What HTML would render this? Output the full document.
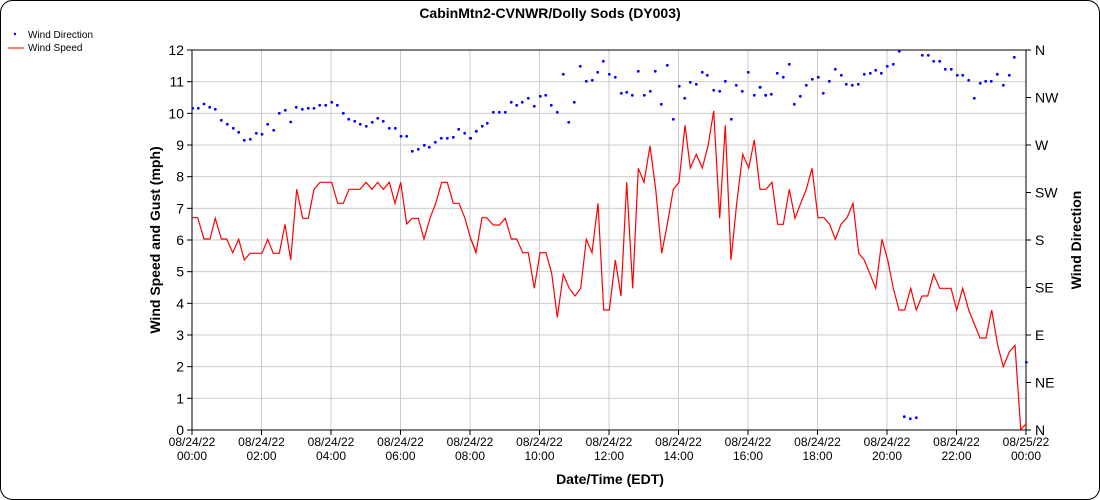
<!DOCTYPE html>
<html><head><meta charset="utf-8"><style>
body{margin:0;background:#fff;}
svg{display:block;font-family:"Liberation Sans",sans-serif;}
</style></head><body>
<svg id="s" width="1100" height="500" xmlns="http://www.w3.org/2000/svg">
<rect x="0.5" y="0.5" width="1099" height="499" rx="12" fill="#fff" stroke="#000"/>
<text x="550" y="18" font-size="14" font-weight="bold" text-anchor="middle">CabinMtn2-CVNWR/Dolly Sods (DY003)</text>
<circle cx="15" cy="34" r="1.2" fill="#00f"/>
<text x="28" y="38" font-size="10">Wind Direction</text>
<line x1="8" y1="48" x2="24" y2="48" stroke="#f00"/>
<text x="28" y="51" font-size="10">Wind Speed</text>
<g id="grid"></g>
<g id="data"></g>
<text x="610" y="484" font-size="14" font-weight="bold" text-anchor="middle">Date/Time (EDT)</text>
<text transform="translate(160,240) rotate(-90)" font-size="14" font-weight="bold" text-anchor="middle">Wind Speed and Gust (mph)</text>
<text transform="translate(1081,240) rotate(-90)" font-size="14" font-weight="bold" text-anchor="middle">Wind Direction</text>
</svg>
<script>
var NS="http://www.w3.org/2000/svg";
function el(p,t,a,txt){var e=document.createElementNS(NS,t);for(var k in a)e.setAttribute(k,a[k]);if(txt!==undefined)e.textContent=txt;p.appendChild(e);return e;}
var g=document.getElementById('grid'),d=document.getElementById('data');
var L=192,R=1026,T=50,B=430;
for(var i=0;i<=12;i++){var y=B-i*(B-T)/12;
 el(g,'line',{x1:L,x2:R,y1:y,y2:y,stroke:'#ccc'});
 el(g,'line',{x1:L-5,x2:L,y1:y,y2:y,stroke:'#000'});
 el(g,'text',{x:L-8,y:y+5,'font-size':14,'text-anchor':'end'},i);}
var hrs=['00:00','02:00','04:00','06:00','08:00','10:00','12:00','14:00','16:00','18:00','20:00','22:00','00:00'];
for(var i=0;i<=12;i++){var x=L+i*(R-L)/12;
 el(g,'line',{x1:x,x2:x,y1:T,y2:B,stroke:'#ccc'});
 el(g,'line',{x1:x,x2:x,y1:B,y2:B+5,stroke:'#000'});
 el(g,'text',{x:x,y:B+16,'font-size':12,'text-anchor':'middle'},i==12?'08/25/22':'08/24/22');
 el(g,'text',{x:x,y:B+30,'font-size':12,'text-anchor':'middle'},hrs[i]);}
var dirs=['N','NE','E','SE','S','SW','W','NW','N'];
for(var i=0;i<=8;i++){var y=B-i*(B-T)/8;
 el(g,'line',{x1:R,x2:R+5,y1:y,y2:y,stroke:'#000'});
 el(g,'text',{x:R+9,y:y+5,'font-size':14},dirs[i]);}
el(g,'line',{x1:L,x2:L,y1:T,y2:B,stroke:'#000'});
el(g,'line',{x1:R,x2:R,y1:T,y2:B,stroke:'#000'});
el(g,'line',{x1:L,x2:R,y1:T,y2:T,stroke:'#000'});
el(g,'line',{x1:L,x2:R,y1:B,y2:B,stroke:'#000'});
function conv(ox,oy,arr){var r=[];for(var i=0;i<arr.length;i+=2)r.push([ox+arr[i]/3,oy+arr[i+1]/3]);return r;}
var sp=[].concat(
conv(180,40,[38,533,53,533,72,597,90,597,106,535,124,597,140,597,158,638,176,598,193,660,210,640,246,640,263,598,280,640,298,640,315,553,332,660,350,448,368,535,385,535,402,448,420,427,455,427,473,490,490,490,507,448,540,448,558,427,576,448,593,427,610,448,628,427,645,490,662,427,680,552,697,535,715,535,732,597,750,535,767,490,785,427,802,427,820,490,837,490,855,535,872,597,889,638]),
conv(470,40,[0,590,18,638,36,533,50,533,70,555,88,555,106,535,124,597,140,597,158,638,175,638,193,745,210,638,228,638,245,700,262,832,280,703,298,745,315,768,332,745,349,598,366,638,384,490,401,810,418,810,436,660,453,768,470,427,488,745,505,385,522,427,540,318,557,448,575,640,592,553,610,448,627,427,645,256,661,384,679,343,697,384,714,318,731,213,749,535,766,256,783,660,800,490,818,343,836,384,853,300,870,448,887,448]),
conv(760,40,[18,448,36,427,53,553,70,553,88,448,105,535,122,490,139,448,156,385,174,533,192,533,209,553,226,598,243,553,261,533,279,490,296,640,313,660,347,745,366,598,383,660,400,745,417,810,434,810,452,745,469,810,486,768,503,768,521,703,539,745,573,745,590,810,608,745,626,810,660,894,678,894,695,810,713,916,730,980,748,936,765,916,782,1168,800,1150]));
el(d,'polyline',{points:sp.map(function(p){return p[0].toFixed(1)+','+p[1].toFixed(1)}).join(' '),fill:'none',stroke:'#f00','stroke-width':1.2});
var dots=[].concat(
conv(180,40,[38,205,55,205,72,192,89,202,106,208,124,241,142,253,160,265,176,277,193,301,211,298,229,280,246,283,263,253,281,271,298,220,316,211,332,246,349,202,367,208,385,205,402,205,419,196,437,196,455,187,472,196,490,220,506,238,524,244,541,253,559,259,577,247,593,235,610,244,628,265,646,265,663,289,680,289,697,334,715,328,733,316,748,322,766,307,784,295,802,295,820,292,836,268,854,280,871,295,889,274]),
conv(470,40,[2,295,19,274,37,259,52,250,70,217,88,217,106,217,124,187,140,196,157,187,175,175,193,199,211,169,227,166,244,196,262,217,280,103,296,247,313,187,331,79,349,124,367,121,383,97,400,64,418,103,436,112,454,160,470,157,487,166,505,94,523,166,541,154,556,94,574,193,592,76,610,238,628,139,644,175,661,127,679,133,697,97,712,106,731,151,749,154,766,124,784,238,799,136,817,154,835,97,853,166,871,142,887,166]),
conv(760,40,[0,142,17,166,34,163,52,100,70,112,88,73,103,193,121,169,139,136,157,118,175,112,190,160,208,124,226,88,244,106,259,133,277,136,295,133,313,103,331,100,347,91,364,100,382,79,400,73,418,34,433,1130,451,1136,469,1133,487,46,505,46,521,64,539,64,556,88,574,88,592,106,608,106,626,121,643,175,661,130,677,124,694,124,712,103,730,136,748,106,763,52,799,967]));
dots.forEach(function(p){el(d,'circle',{cx:p[0].toFixed(1),cy:p[1].toFixed(1),r:1.4,fill:'#00f'});});
</script>
</body></html>
